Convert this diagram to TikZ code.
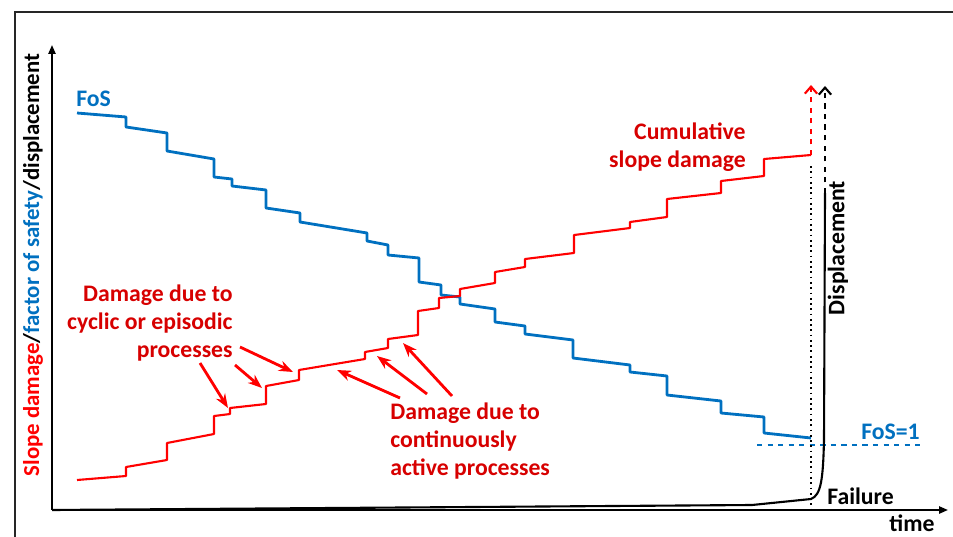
\documentclass[tikz,border=0pt]{standalone}
\usepackage{fontspec}
\setmainfont{Carlito}
\usetikzlibrary{arrows.meta}
\definecolor{fosblue}{RGB}{0,112,192}
\definecolor{dmgred}{RGB}{255,0,0}
\definecolor{txtred}{RGB}{215,0,0}

\begin{document}
\begin{tikzpicture}[x=0.02cm,y=-0.02cm,
    lbl/.style={font=\bfseries\fontsize{13.5}{16}\selectfont, inner sep=0pt},
    fos/.style={color=fosblue, line width=1.6pt, line join=round},
    dmg/.style={color=dmgred, line width=1.2pt, line join=round},
    ptr/.style={color=dmgred, line width=1.6pt, -{Stealth[length=8pt,width=6pt]}},
    axis/.style={line width=1.1pt, -{Triangle[length=5pt,width=4pt]}}]
    \useasboundingbox (0,0) rectangle (953,537);
    \draw[line width=1pt, color=black!85] (953,12) -- (15,12) -- (15,537);

    \coordinate (O) at (52,510);
    \coordinate (ytop) at (52,45);
    \coordinate (xend) at (948,510);
    \draw[axis] (O) -- (ytop);
    \draw[axis] (O) -- (xend);
    \node[lbl] (time) at (912,523) {time};
    \node[lbl, font=\bfseries\fontsize{13}{16}\selectfont, rotate=90] (ylbl) at (33,265) {\textcolor{dmgred}{Slope damage}/\textcolor{fosblue}{factor of safety}/displacement};

    \draw[fos] (77,113) -- (126,117) -- (126,127) -- (167,133) -- (167,151) -- (214,159) -- (214,177) -- (232,179) -- (232,186) -- (266,190) -- (266,208) -- (300,213) -- (300,222) -- (367,233) -- (367,241) -- (388,245) -- (388,255) -- (419,258) -- (419,282) -- (441,285) -- (441,295) -- (460,297) -- (460,304) -- (495,309) -- (495,322) -- (525,326) -- (525,334) -- (573,340) -- (573,358) -- (630,365) -- (630,372) -- (667,376) -- (667,395) -- (721,401) -- (721,413) -- (764,417) -- (764,433) -- (811,438);
    \node[lbl, text=fosblue, anchor=west] (foslbl) at (76,99) {FoS};
    \draw[color=fosblue, line width=1pt, dashed] (757,445) -- (923,445);
    \node[lbl, text=fosblue, anchor=east] (fos1) at (920,432) {FoS=1};

    \draw[dmg] (77,480) -- (126,476) -- (126,467) -- (167,460) -- (167,443) -- (214,434) -- (214,416) -- (230,414) -- (230,408) -- (266,404) -- (266,386) -- (299,380) -- (299,370) -- (365,359) -- (365,352) -- (388,348) -- (388,339) -- (418,335) -- (418,311) -- (439,308) -- (439,298) -- (460,296) -- (460,289) -- (495,283) -- (495,272) -- (525,267) -- (525,259) -- (574,253) -- (574,235) -- (630,228) -- (630,222) -- (667,217) -- (667,199) -- (721,193) -- (721,181) -- (764,176) -- (764,159) -- (811,155);
    \draw[dmg, dashed, -{Straight Barb[length=4pt,width=7pt]}] (811,155) -- (811,85);
    \node[lbl, text=txtred, align=right, anchor=east] (cum) at (746,147) {Cumulative\\slope damage};

    \draw[line width=1pt, dotted] (811,166) -- (811,512);
    \draw[line width=1.2pt] (O) -- (752,505) -- (811,499) .. controls (821,495) and (823,480) .. (824,440) -- (825,193);
    \draw[line width=1.2pt, dashed, -{Straight Barb[length=4pt,width=7pt]}] (825,193) -- (825,86);
    \node[lbl, rotate=90] (displ) at (838,248) {Displacement};
    \node[lbl, anchor=west] (fail) at (827,496) {Failure};

    \node[lbl, text=txtred, align=right, anchor=east] (cyc) at (233,323) {Damage due to\\cyclic or episodic\\processes};
    \coordinate (c1s) at (200,363);
    \coordinate (c1e) at (228,408);
    \coordinate (c2s) at (235,365);
    \coordinate (c2e) at (262,388);
    \coordinate (c3s) at (240,347);
    \coordinate (c3e) at (293,372);
    \draw[ptr] (c1s) -- (c1e);
    \draw[ptr] (c2s) -- (c2e);
    \draw[ptr] (c3s) -- (c3e);

    \node[lbl, text=txtred, align=left, anchor=west] (cont) at (390,441) {Damage due to\\continuously\\active processes};
    \coordinate (a1s) at (400,398);
    \coordinate (a1e) at (337,370);
    \coordinate (a2s) at (427,394);
    \coordinate (a2e) at (377,356);
    \coordinate (a3s) at (452,396);
    \coordinate (a3e) at (403,343);
    \draw[ptr] (a1s) -- (a1e);
    \draw[ptr] (a2s) -- (a2e);
    \draw[ptr] (a3s) -- (a3e);
\end{tikzpicture}
\end{document}
